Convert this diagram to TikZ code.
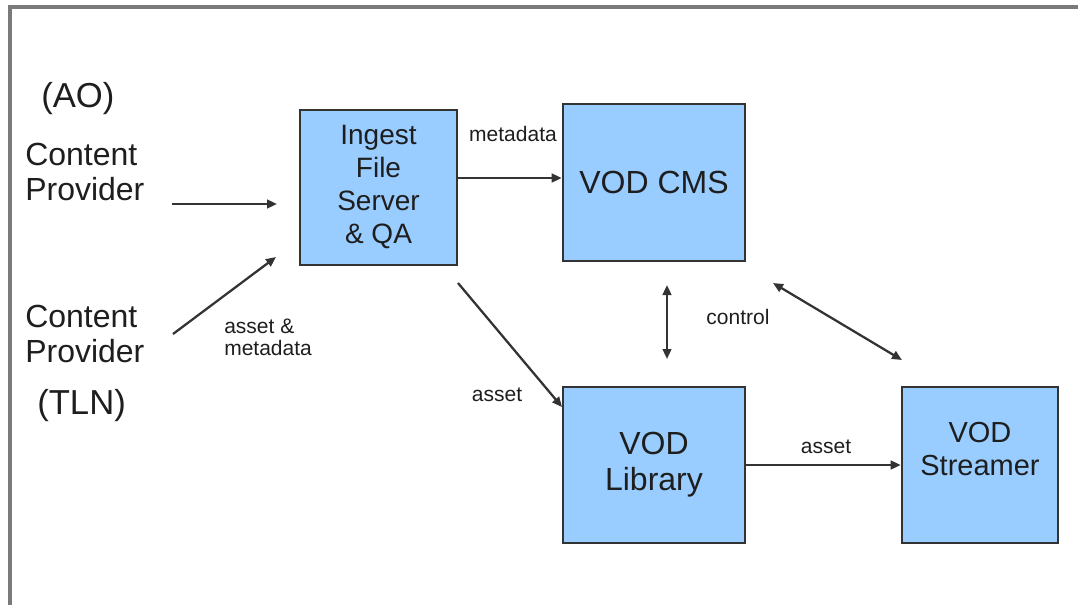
\documentclass[tikz,border=0pt]{standalone}
\usepackage{fontspec}
\setmainfont{Liberation Sans}
\usetikzlibrary{arrows.meta}
\definecolor{boxfill}{HTML}{99CCFF}
\definecolor{boxline}{HTML}{333333}
\definecolor{txt}{HTML}{1E1E1E}
\definecolor{framecol}{HTML}{7A7A7A}
\begin{document}
\begin{tikzpicture}[x=0.75pt,y=-0.75pt,
  box/.style={draw=boxline, fill=boxfill, line width=1.9pt, text=txt, align=center, inner sep=0pt},
  big/.style={font=\fontsize{24}{26.5}\selectfont},
  lefttext/.style={font=\fontsize{24}{26.25}\selectfont, text=txt, align=left, inner sep=0pt, anchor=west},
  paren/.style={font=\fontsize{26}{28}\selectfont, text=txt, inner sep=0pt, anchor=west},
  lbl/.style={font=\fontsize{15.75}{16.5}\selectfont, text=txt, inner sep=0pt},
  conn/.style={draw=boxline, line width=1.7pt, -{Triangle[length=7.5pt,width=6.5pt]}},
  bidir/.style={draw=boxline, line width=1.7pt, {Triangle[length=7.5pt,width=6.5pt]}-{Triangle[length=7.5pt,width=6.5pt]}},
]
\useasboundingbox (0,0) rectangle (1078,604);
\draw[framecol, line width=2.4pt] (10,612) -- (10,7) -- (1086,7);

% boxes
\node[box, minimum width=117.75pt, minimum height=116.25pt, font=\fontsize{21}{24.75}\selectfont] (ingest) at (378.5,187.5) {Ingest\\File\\Server\\\& QA};
\node[box, minimum width=136.5pt, minimum height=117.75pt, big] (cms) at (654,182.5) {VOD CMS};
\node[box, minimum width=136.5pt, minimum height=117pt, font=\fontsize{24}{27}\selectfont] (lib) at (654,465) {VOD\\Library};
\node[box, minimum width=117pt, minimum height=117pt, font=\fontsize{21.75}{24.75}\selectfont] (streamer) at (980,465) {VOD\\Streamer\\\mbox{}};

% left texts
\node[paren] (ao) at (41,99) {(AO)};
\node[lefttext] (cp1) at (25,172) {Content\\Provider};
\node[lefttext] (cp2) at (25,334) {Content\\Provider};
\node[paren] (tln) at (37,406) {(TLN)};

% free ends
\coordinate (a1s) at (172,204);
\coordinate (a1e) at (277,204);
\coordinate (a2s) at (173,334);
\coordinate (a2e) at (276,257);
\coordinate (m) at (0,178);
\coordinate (as) at (458,283);
\coordinate (ae) at (562,407);
\coordinate (c1) at (667,285);
\coordinate (c2) at (667,359);
\coordinate (d1) at (773,283);
\coordinate (d2) at (902,360);

% connectors
\draw[conn] (a1s) -- (a1e);
\draw[conn] (a2s) -- (a2e);
\draw[conn] (ingest.east |- m) -- (cms.west |- m);
\draw[conn] (as) -- (ae);
\draw[bidir] (c1) -- (c2);
\draw[bidir] (d1) -- (d2);
\draw[conn] (lib.east) -- (streamer.west);

% labels
\node[lbl] (lmeta) at (513,134) {metadata};
\node[lbl, align=left, anchor=west] (lam) at (224,337) {asset \&\\metadata};
\node[lbl] (lasset1) at (497,395) {asset};
\node[lbl] (lctrl) at (738,317) {control};
\node[lbl] (lasset2) at (826,447) {asset};
\end{tikzpicture}
\end{document}
